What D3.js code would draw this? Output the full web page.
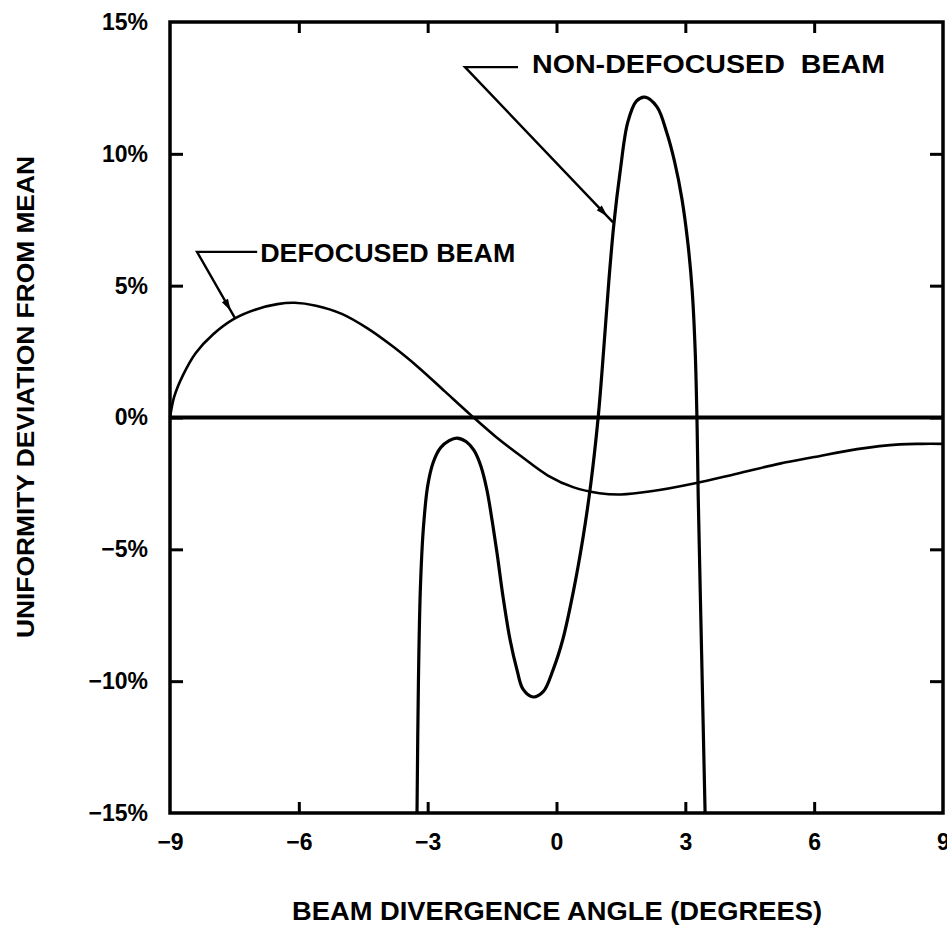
<!DOCTYPE html>
<html>
<head>
<meta charset="utf-8">
<script src="https://cdn.jsdelivr.net/npm/d3@7"></script>
<style>
  html, body { margin: 0; padding: 0; background: #fff; }
  svg { display: block; }
  text { font-family: "Liberation Sans", Arial, Helvetica, sans-serif; font-weight: bold; fill: #000; }
</style>
</head>
<body>
<svg id="chart" width="947" height="928"></svg>
<script>
// ---- data ----
const xTicks = [-9, -6, -3, 0, 3, 6, 9];
const yTicks = [-15, -10, -5, 0, 5, 10, 15];

// Defocused beam (angle in degrees, deviation in %)
const defocusedX = [-9.0, -8.9, -8.7, -8.4, -8.0, -7.5, -7.0, -6.5, -6.1, -5.6, -5.0, -4.4, -3.8, -3.2, -2.6, -2.0, -1.4, -0.8, -0.2, 0.4, 1.0, 1.5, 2.2, 3.2, 4.2, 5.2, 6.0, 7.0, 8.0, 8.5, 9.0];
const defocusedY = [0.0, 0.8, 1.6, 2.45, 3.15, 3.75, 4.1, 4.3, 4.35, 4.24, 3.93, 3.38, 2.68, 1.88, 0.99, 0.1, -0.75, -1.5, -2.2, -2.65, -2.87, -2.92, -2.8, -2.5, -2.13, -1.75, -1.5, -1.2, -1.02, -1.0, -1.0];

// Non-defocused beam
const nonDefX = [-3.248, -3.215, -3.17, -3.1, -3.0, -2.87, -2.7, -2.5, -2.32, -2.1, -1.92, -1.76, -1.62, -1.5, -1.385, -1.245, -1.08, -0.92, -0.78, -0.546, -0.31, -0.08, 0.15, 0.385, 0.62, 0.8, 0.97, 1.1, 1.22, 1.34, 1.48, 1.66, 1.86, 2.06, 2.34, 2.57, 2.75, 2.92, 3.06, 3.16, 3.23, 3.27, 3.3, 3.38, 3.46];
const nonDefY = [-15.0, -10.0, -6.5, -4.2, -2.6, -1.7, -1.15, -0.88, -0.78, -0.92, -1.25, -1.85, -2.75, -3.9, -5.14, -6.8, -8.44, -9.57, -10.3, -10.6, -10.4, -9.57, -8.4, -6.66, -4.53, -2.5, 0.0, 2.6, 5.2, 7.4, 9.3, 11.2, 12.0, 12.15, 11.78, 10.79, 9.7, 8.3, 6.6, 4.8, 2.5, 0.0, -3.0, -9.0, -15.0];

// Labels
const xTitle = "BEAM DIVERGENCE ANGLE (DEGREES)";
const yTitle = "UNIFORMITY DEVIATION FROM MEAN";
const annLabels = ["DEFOCUSED BEAM", "NON-DEFOCUSED  BEAM"];
// annotation anchors in data units: [textX, textY, elbowX, elbowY, barEndX, tipX, tipY, textEndX]
const annDefocused = [-6.9, 5.9, -8.37, 6.28, -6.97, -7.49, 3.78, -0.96];
const annNonDef = [-0.57, 13.06, -2.13, 13.29, -0.896, 1.317, 7.4, 7.65];

// ---- layout ----
const svg = d3.select("#chart");
const x = d3.scaleLinear().domain([-9, 9]).range([170, 943]);
const y = d3.scaleLinear().domain([-15, 15]).range([813, 22]);

const fmtX = d => d < 0 ? "\u2212" + Math.abs(d) : String(d);
const fmtY = d => (d < 0 ? "\u2212" + Math.abs(d) : String(d)) + "%";

// axes
const gB = svg.append("g").attr("transform", `translate(0,${y(-15)})`)
  .call(d3.axisBottom(x).tickValues(xTicks).tickSizeInner(-11).tickSizeOuter(0).tickPadding(21).tickFormat(fmtX));
const gT = svg.append("g").attr("transform", `translate(0,${y(15)})`)
  .call(d3.axisTop(x).tickValues(xTicks.slice(1, -1)).tickSizeInner(-11).tickSizeOuter(0).tickFormat(""));
const gL = svg.append("g").attr("transform", `translate(${x(-9)},0)`)
  .call(d3.axisLeft(y).tickValues(yTicks).tickSizeInner(-13).tickSizeOuter(0).tickPadding(22).tickFormat(fmtY));
const gR = svg.append("g").attr("transform", `translate(${x(9)},0)`)
  .call(d3.axisRight(y).tickValues(yTicks.slice(1, -1)).tickSizeInner(-13).tickSizeOuter(0).tickFormat(""));

[gB, gT, gL, gR].forEach(g => {
  g.select(".domain").remove();
  g.selectAll(".tick line").attr("stroke", "#000").attr("stroke-width", 3);
  g.selectAll(".tick text").attr("fill", "#000").style("font-size", "23px")
    .style("font-family", '"Liberation Sans", Arial, sans-serif').style("font-weight", "bold");
});
gB.selectAll(".tick").filter(d => d === -9 || d === 9).select("line").remove();
gL.selectAll(".tick").filter(d => d === -15 || d === 15).select("line").remove();

// frame
svg.append("rect")
  .attr("x", x(-9)).attr("y", y(15))
  .attr("width", x(9) - x(-9)).attr("height", y(-15) - y(15))
  .attr("fill", "none").attr("stroke", "#000").attr("stroke-width", 3.5);

// zero line
svg.append("line")
  .attr("x1", x(-9)).attr("x2", x(9)).attr("y1", y(0)).attr("y2", y(0))
  .attr("stroke", "#000").attr("stroke-width", 4);

// curves
const line = d3.line().x(d => x(d[0])).y(d => y(d[1])).curve(d3.curveCatmullRom.alpha(0.5));
svg.append("path")
  .datum(defocusedX.map((v, i) => [v, defocusedY[i]]))
  .attr("d", line).attr("fill", "none").attr("stroke", "#000").attr("stroke-width", 2.6);
svg.append("path")
  .datum(nonDefX.map((v, i) => [v, nonDefY[i]]))
  .attr("d", line).attr("fill", "none").attr("stroke", "#000").attr("stroke-width", 3.2)
  .attr("stroke-linejoin", "round");

// annotations
function annotate(a, label) {
  const [tx, ty, ex, ey, bx, px, py, tex] = a;
  const g = svg.append("g");
  g.append("polyline")
    .attr("points", [[x(bx), y(ey)], [x(ex), y(ey)], [x(px), y(py)]].map(p => p.join(",")).join(" "))
    .attr("fill", "none").attr("stroke", "#000").attr("stroke-width", 2.4);
  // arrowhead a little before the tip
  const x0 = x(ex), y0 = y(ey), x1 = x(px), y1 = y(py);
  const len = Math.hypot(x1 - x0, y1 - y0);
  const ux = (x1 - x0) / len, uy = (y1 - y0) / len;
  const hx = x1 - ux * 8, hy = y1 - uy * 8;
  const bxp = hx - ux * 12, byp = hy - uy * 12;
  const nx = -uy, ny = ux;
  g.append("path")
    .attr("d", `M${hx},${hy}L${bxp + nx * 3.5},${byp + ny * 3.5}L${bxp - nx * 3.5},${byp - ny * 3.5}Z`)
    .attr("fill", "#000");
  g.append("text")
    .attr("x", x(tx)).attr("y", y(ty))
    .attr("textLength", x(tex) - x(tx)).attr("lengthAdjust", "spacingAndGlyphs")
    .style("font-size", "25px").style("white-space", "pre")
    .text(label);
}
annotate(annDefocused, annLabels[0]);
annotate(annNonDef, annLabels[1]);

// axis titles
svg.append("text")
  .attr("x", 557).attr("y", 920).attr("text-anchor", "middle")
  .attr("textLength", 530).attr("lengthAdjust", "spacingAndGlyphs")
  .style("font-size", "25px")
  .text(xTitle);
svg.append("text")
  .attr("transform", "translate(34,397) rotate(-90)")
  .attr("text-anchor", "middle")
  .attr("textLength", 482).attr("lengthAdjust", "spacingAndGlyphs")
  .style("font-size", "24px")
  .text(yTitle);
</script>
</body>
</html>
